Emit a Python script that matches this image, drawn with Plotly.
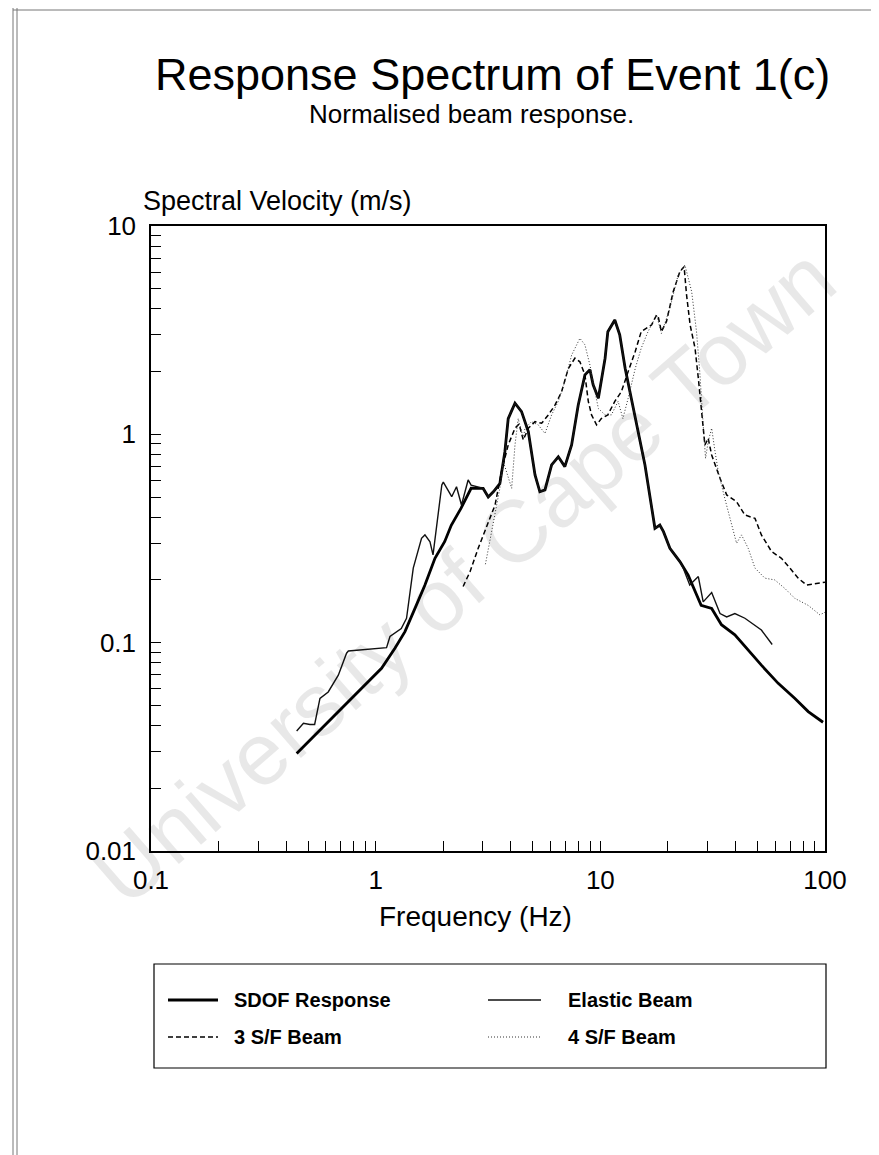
import plotly.graph_objects as go

# ---------------- data ----------------
sdof_f = [0.445, 0.556, 0.730, 0.895, 1.062, 1.218, 1.35, 1.496, 1.657, 1.836, 2.03, 2.17, 2.40, 2.66,
          3.01, 3.17, 3.34, 3.57, 3.76, 3.89, 4.17, 4.46, 4.78, 5.12, 5.38, 5.67, 6.07, 6.5, 6.95, 7.45,
          7.97, 8.54, 8.99, 9.29, 9.8, 10.5, 10.8, 11.6, 12.2, 12.9, 14.3, 15.8, 17.5, 18.4, 19.1, 20.4,
          22.6, 24.6, 28.1, 31.3, 34.6, 39.7, 52.1, 61.9, 73.5, 84.2, 98.0]
sdof_v = [0.0294, 0.0374, 0.0501, 0.0626, 0.0753, 0.094, 0.113, 0.146, 0.189, 0.254, 0.306, 0.366, 0.442, 0.551,
          0.55, 0.50, 0.53, 0.58, 0.826, 1.19, 1.41, 1.285, 1.03, 0.638, 0.53, 0.541, 0.713, 0.78, 0.70, 0.889,
          1.38, 1.93, 2.04, 1.73, 1.49, 2.32, 3.11, 3.54, 3.0, 2.07, 1.19, 0.713, 0.354, 0.367, 0.341, 0.284,
          0.245, 0.211, 0.151, 0.146, 0.122, 0.109, 0.078, 0.0638, 0.054, 0.0467, 0.0415]

elastic_f = [0.445, 0.477, 0.510, 0.535, 0.565, 0.615, 0.682, 0.742, 0.756, 1.118, 1.158, 1.218, 1.30, 1.372,
             1.42, 1.47, 1.60, 1.657, 1.745, 1.80, 1.97, 2.0, 2.18, 2.29, 2.41, 2.58, 2.66,
             3.01, 3.17, 3.34, 3.57, 3.76, 3.89, 4.17, 4.46, 4.78, 5.12, 5.38, 5.67, 6.07, 6.5, 6.95, 7.45,
             7.97, 8.54, 8.99, 9.29, 9.8, 10.5, 10.8, 11.6, 12.2, 12.9, 14.3, 15.8, 17.5, 18.4, 19.1, 20.4,
             22.6, 23.4, 25.0, 27.3, 28.7, 31.3, 34.1, 36.5, 39.7, 44.0, 52.1, 58.2]
elastic_v = [0.0377, 0.041, 0.0405, 0.0405, 0.054, 0.058, 0.0698, 0.089, 0.0912, 0.0947, 0.107, 0.111, 0.117, 0.131,
             0.169, 0.228, 0.317, 0.329, 0.305, 0.264, 0.571, 0.59, 0.502, 0.56, 0.458, 0.604, 0.57,
             0.55, 0.50, 0.53, 0.58, 0.826, 1.19, 1.41, 1.285, 1.03, 0.638, 0.53, 0.541, 0.713, 0.78, 0.70, 0.889,
             1.38, 1.93, 2.04, 1.73, 1.49, 2.32, 3.11, 3.54, 3.0, 2.07, 1.19, 0.713, 0.354, 0.367, 0.341, 0.284,
             0.245, 0.2276, 0.189, 0.2075, 0.157, 0.174, 0.138, 0.133, 0.138, 0.131, 0.115, 0.098]

sf3_f = [2.45, 2.63, 2.86, 3.17, 3.40, 3.63, 3.76, 3.89, 4.17, 4.35, 4.54, 4.78, 5.12, 5.48, 5.87, 6.28, 6.72,
         7.20, 7.71, 8.11, 8.54, 8.84, 9.14, 9.62, 10.1, 10.8, 11.6, 12.4, 13.3, 14.3, 15.2, 16.9, 17.8, 18.1,
         18.7, 19.7, 21.1, 22.6, 23.6, 24.2, 25.1, 26.4, 27.3, 28.2, 29.2, 30.2, 31.3, 34.1, 36.5, 40.4, 44.0,
         48.8, 52.1, 57.8, 64.0, 69.8, 76.0, 82.8, 93.3, 100.0]
sf3_v = [0.186, 0.219, 0.284, 0.382, 0.458, 0.662, 0.767, 0.889, 1.07, 1.12, 0.94, 1.07, 1.15, 1.13, 1.24, 1.38, 1.60,
         2.07, 2.32, 2.23, 1.93, 1.44, 1.24, 1.11, 1.19, 1.24, 1.44, 1.60, 2.0, 2.50, 3.11, 3.35, 3.74, 3.67,
         3.11, 3.48, 4.84, 6.04, 6.38, 4.67, 3.35, 2.59, 1.86, 1.285, 0.889, 0.957, 0.796, 0.615, 0.512, 0.475, 0.41,
         0.395, 0.329, 0.274, 0.254, 0.228, 0.204, 0.189, 0.193, 0.195]

sf4_f = [3.08, 3.40, 3.57, 3.70, 3.82, 4.03, 4.17, 4.31, 4.54, 4.62, 4.94, 5.29, 5.67, 6.07, 6.50, 6.95, 7.45,
         8.11, 8.54, 8.99, 9.47, 9.80, 10.5, 11.2, 12.0, 12.6, 13.3, 14.3, 15.2, 16.3, 17.8, 18.7, 20.4, 22.2,
         23.8, 25.5, 26.8, 27.7, 28.7, 29.4, 30.2, 31.3, 32.4, 33.5, 35.8, 38.4, 40.4, 42.5, 45.5, 48.8, 54.0,
         59.8, 66.3, 73.5, 84.2, 94.9, 100.0]
sf4_v = [0.238, 0.426, 0.55, 0.74, 0.662, 0.551, 0.889, 1.19, 0.957, 1.07, 1.15, 1.11, 1.01, 1.24, 1.44, 1.79, 2.40,
         2.89, 2.69, 2.15, 1.60, 1.33, 1.24, 1.24, 1.44, 1.19, 1.49, 2.07, 2.59, 3.11, 3.74, 3.05, 4.03, 5.82,
         6.50, 4.84, 3.11, 2.0, 1.11, 0.767, 0.922, 1.07, 0.826, 0.662, 0.493, 0.367, 0.30, 0.329, 0.284, 0.228, 0.204,
         0.20, 0.182, 0.163, 0.151, 0.136, 0.14]

x_decades = [0.1, 1, 10, 100]
x_decade_labels = ["0.1", "1", "10", "100"]
y_decades = [0.01, 0.1, 1, 10]
y_decade_labels = ["0.01", "0.1", "1", "10"]

series_names = ["SDOF Response", "Elastic Beam", "3 S/F Beam", "4 S/F Beam"]

# ---------------- figure ----------------
FONT = "Liberation Sans, Arial, Helvetica, sans-serif"


def log_ticks(decades, labels):
    vals, texts = [], []
    for d, lab in zip(decades[:-1], labels[:-1]):
        for n in range(1, 10):
            vals.append(d * n)
            texts.append(lab if n == 1 else "")
    vals.append(decades[-1])
    texts.append(labels[-1])
    return vals, texts


xtv, xtt = log_ticks(x_decades, x_decade_labels)
ytv, ytt = log_ticks(y_decades, y_decade_labels)

styles = [
    dict(color="black", width=2.8),
    dict(color="#111111", width=1.4),
    dict(color="black", width=1.5, dash="5px,3px"),
    dict(color="#333333", width=1.0, dash="1px,2px"),
]

fig = go.Figure()
for name, fx, vy, st in zip(series_names, [sdof_f, elastic_f, sf3_f, sf4_f],
                            [sdof_v, elastic_v, sf3_v, sf4_v], styles):
    fig.add_trace(go.Scatter(x=fx, y=vy, mode="lines", name=name, line=st, showlegend=False))

W, H = 879, 1155
L, R, T, B = 143, 62, 218, 312
PW, PH = W - L - R, H - T - B


def px(xp):
    return (xp - L) / PW


def py(yp):
    return (H - B - yp) / PH


axis_common = dict(type="log", showline=True, linecolor="black", linewidth=1.5, mirror=True,
                   ticks="inside", ticklen=10, tickwidth=1, tickcolor="black", showgrid=False,
                   zeroline=False, tickfont=dict(family=FONT, size=26, color="black"))

fig.update_xaxes(range=[-1, 2], tickmode="array", tickvals=xtv, ticktext=xtt,
                 ticklabelstandoff=5, **axis_common)
fig.update_yaxes(range=[-2, 1], tickmode="array", tickvals=ytv, ticktext=ytt,
                 ticklabelstandoff=8, **axis_common)

ann = []
# watermark
ann.append(dict(text="University of Cape Town", x=px(455), y=py(568), xref="paper", yref="paper",
                showarrow=False, textangle=-41, font=dict(family=FONT, size=88, color="rgba(0,0,0,0.09)")))
ann.append(dict(text="Response Spectrum of Event 1(c)", x=px(484), y=py(67), xref="paper", yref="paper",
                showarrow=False, xanchor="center", yanchor="middle",
                font=dict(family=FONT, size=45, color="black")))
ann.append(dict(text="Normalised beam response.", x=px(463), y=py(106), xref="paper", yref="paper",
                showarrow=False, xanchor="center", yanchor="middle",
                font=dict(family=FONT, size=26, color="black")))
ann.append(dict(text="Spectral Velocity (m/s)", x=px(133), y=py(193), xref="paper", yref="paper",
                showarrow=False, xanchor="left", yanchor="middle",
                font=dict(family=FONT, size=27, color="black")))
ann.append(dict(text="Frequency (Hz)", x=px(467), y=py(908), xref="paper", yref="paper",
                showarrow=False, xanchor="center", yanchor="middle",
                font=dict(family=FONT, size=28, color="black")))

shapes = []
# legend box
shapes.append(dict(type="rect", xref="paper", yref="paper", x0=px(146), x1=px(818), y0=py(1060), y1=py(956),
                   line=dict(color="black", width=1.2), fillcolor="rgba(0,0,0,0)"))
leg_pos = [(160, 210, 224, 992), (480, 533, 558, 992), (160, 210, 224, 1029), (480, 533, 558, 1029)]
for name, st, (lx0, lx1, tx, ly) in zip(series_names, styles, leg_pos):
    shapes.append(dict(type="line", xref="paper", yref="paper", x0=px(lx0), x1=px(lx1), y0=py(ly), y1=py(ly),
                       line=st))
    ann.append(dict(text=name, x=px(tx), y=py(ly), xref="paper", yref="paper", showarrow=False,
                    xanchor="left", yanchor="middle",
                    font=dict(family=FONT, size=20, color="black", weight="bold")))

# page frame lines
for xl in (5, 9):
    shapes.append(dict(type="line", xref="paper", yref="paper", x0=px(xl), x1=px(xl), y0=py(0), y1=py(H),
                       line=dict(color="#777777", width=1)))
shapes.append(dict(type="line", xref="paper", yref="paper", x0=px(5), x1=px(W), y0=py(2), y1=py(2),
                   line=dict(color="#777777", width=1)))

fig.update_layout(width=W, height=H, autosize=False, margin=dict(l=L, r=R, t=T, b=B, pad=0),
                  paper_bgcolor="white", plot_bgcolor="white", annotations=ann, shapes=shapes,
                  font=dict(family=FONT, color="black"))

fig.write_html("out.html")
